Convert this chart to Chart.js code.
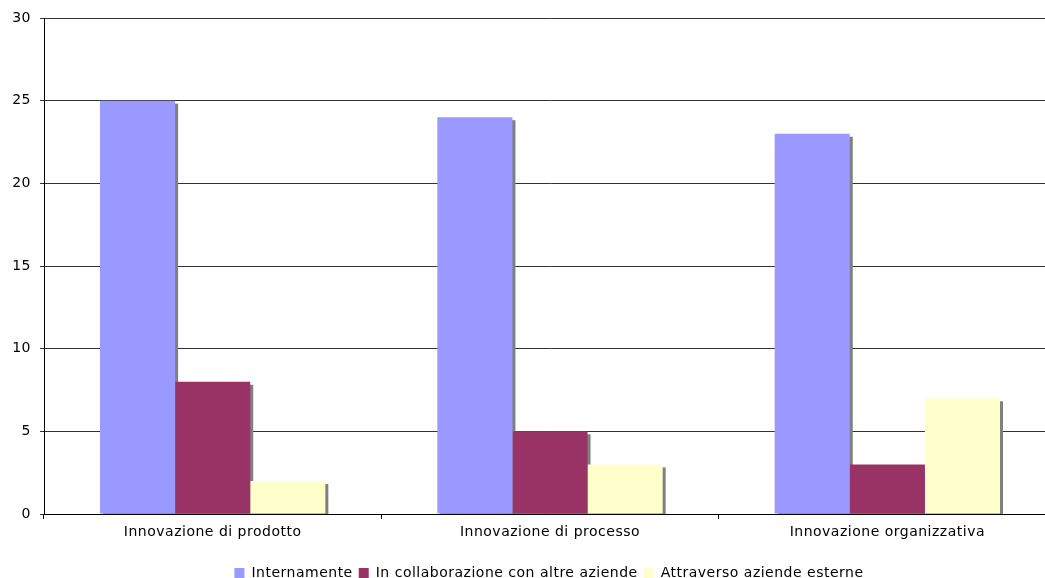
<!DOCTYPE html>
<html>
<head>
<meta charset="utf-8">
<script src="https://cdn.jsdelivr.net/npm/chart.js@4"></script>
<style>
  html, body { margin: 0; padding: 0; overflow: hidden; background: #fff; }
  #wrap { position: absolute; left: 0; top: 0; }
</style>
</head>
<body>
<div id="wrap"><canvas id="bars" width="1056" height="590"></canvas></div>
<script>
var categories = ['Innovazione di prodotto', 'Innovazione di processo', 'Innovazione organizzativa'];
var seriesNames = ['Internamente', 'In collaborazione con altre aziende', 'Attraverso aziende esterne'];
var internamente = [25, 24, 23];
var collaborazione = [8, 5, 3];
var esterne = [2, 3, 7];
var colors = ['#9999FF', '#993366', '#FFFFCC'];

// the original text is loosely spaced; the canvas state gets reset, so set it on every pass
var looseText = {
    id: 'looseText',
    beforeLayout: function (chart) { chart.ctx.letterSpacing = '0.5px'; },
    beforeDraw: function (chart) { chart.ctx.letterSpacing = '0.5px'; },
    // centre the legend under the plot area rather than the whole canvas
    afterLayout: function (chart) { chart.legend.left += 42; }
};

// grey drop shadow behind each bar, like the old spreadsheet charts
var barShadow = {
    id: 'barShadow',
    beforeDatasetsDraw: function (chart) {
        var ctx = chart.ctx;
        var area = chart.chartArea;
        ctx.save();
        ctx.beginPath();
        ctx.rect(area.left, area.top, area.right - area.left, area.bottom - area.top);
        ctx.clip();
        ctx.fillStyle = '#808080';
        chart.data.datasets.forEach(function (ds, i) {
            chart.getDatasetMeta(i).data.forEach(function (bar) {
                var w = bar.width;
                ctx.fillRect(bar.x - w / 2 + 3, bar.y + 3, w, bar.base - bar.y);
            });
        });
        ctx.restore();
    }
};

Chart.defaults.font.family = '"DejaVu Sans", Verdana, sans-serif';
Chart.defaults.font.size = 14;
Chart.defaults.color = '#000';

var ctx = document.getElementById('bars').getContext('2d');
var chart = new Chart(ctx, {
    type: 'bar',
    data: {
        labels: categories,
        datasets: [{
            label: seriesNames[0],
            data: internamente,
            backgroundColor: colors[0]
        }, {
            label: seriesNames[1],
            data: collaborazione,
            backgroundColor: colors[1]
        }, {
            label: seriesNames[2],
            data: esterne,
            backgroundColor: colors[2]
        }]
    },
    options: {
        responsive: false,
        animation: false,
        layout: {
            padding: { top: 18, right: 0, bottom: 0, left: 0 }
        },
        datasets: {
            bar: {
                categoryPercentage: 0.668,
                barPercentage: 1.0
            }
        },
        plugins: {
            tooltip: { enabled: false },
            legend: {
                position: 'bottom',
                labels: {
                    boxWidth: 10,
                    boxHeight: 10,
                    padding: 6
                }
            }
        },
        scales: {
            x: {
                grid: {
                    drawOnChartArea: false,
                    drawTicks: true,
                    tickLength: 5,
                    color: '#000'
                },
                border: { color: '#000' },
                ticks: { padding: 5 },
                afterFit: function (scale) { scale.height = 46; }
            },
            y: {
                min: 0,
                max: 30,
                ticks: { stepSize: 5, padding: 9 },
                grid: {
                    color: '#333',
                    tickLength: 4
                },
                border: { color: '#000' },
                afterFit: function (scale) { scale.width = 44; }
            }
        }
    },
    plugins: [looseText, barShadow]
});
</script>
</body>
</html>
